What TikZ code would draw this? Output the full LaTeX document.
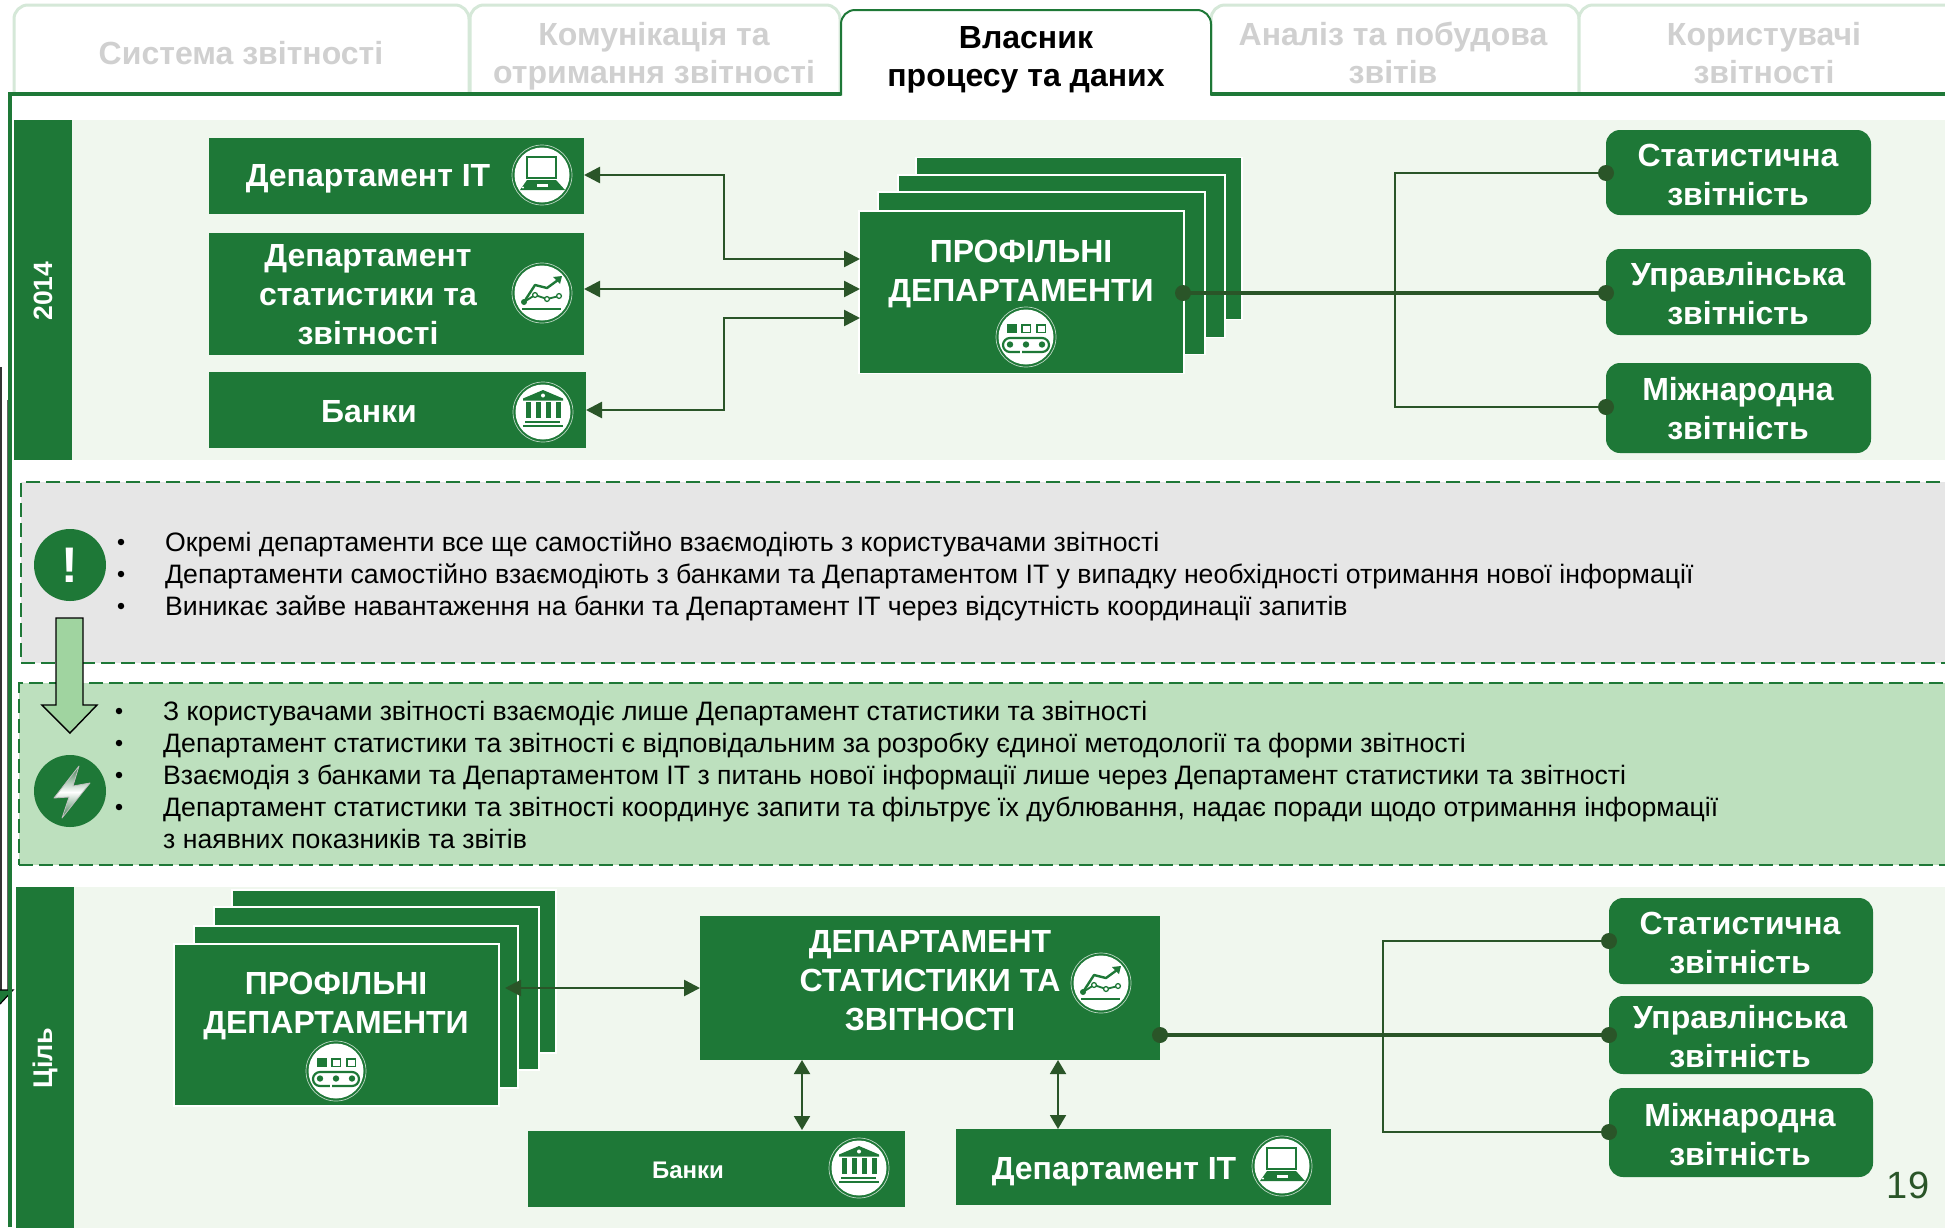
\documentclass[tikz,border=0pt]{standalone}
\usepackage{fontspec}
\setmainfont{Liberation Sans}
\usetikzlibrary{arrows.meta,calc}
\definecolor{gr}{HTML}{1E7837}
\definecolor{dk}{HTML}{2A5528}
\definecolor{pale}{HTML}{F0F7EE}
\definecolor{tabl}{HTML}{D5E8D8}
\definecolor{tabt}{HTML}{D0D0D0}
\definecolor{grayp}{HTML}{E6E6E6}
\definecolor{greenp}{HTML}{BDE0BE}
\definecolor{arrf}{HTML}{A0D4A0}
\newcommand{\rbox}[6]{%
  \pgfmathsetmacro\cxx{(#2+#4)/2}\pgfmathsetmacro\cyy{(#3+#5)/2}%
  \pgfmathsetmacro\ww{#4-#2}\pgfmathsetmacro\hh{#5-#3}%
  \node[#6,minimum width=\ww pt,minimum height=\hh pt] (#1) at (\cxx,\cyy) {};}
\newcommand{\disc}[3]{%
  \node[circle,fill=white,inner sep=0pt,minimum size=55pt] (#1) at (#2,#3) {};
  \draw[white!70!gr,line width=.7pt] (#2,#3) circle (30);}
\newcommand{\iconlaptop}[3]{\disc{#1}{#2}{#3}
  \begin{scope}[shift={(#2,#3)}]
  \draw[gr,line width=2pt,fill=white] (-15,-18) rectangle (14,3);
  \fill[gr] (-15,5) -- (14,5) -- (23,15) -- (-22,15) -- cycle;
  \fill[white] (-5,9) rectangle (6,12);
  \fill[white] (-19,12.5) circle (1.1);
  \end{scope}}
\newcommand{\iconchart}[3]{\disc{#1}{#2}{#3}
  \begin{scope}[shift={(#2,#3)}]
  \fill[gr] (-20,15) rectangle (19,17);
  \draw[gr,line width=2.4,line join=round] (-18,9) -- (-7,-8) -- (5,-5) -- (16,-13);
  \fill[gr] (20,-17) -- (11,-16) -- (18,-9) -- cycle;
  \draw[gr,line width=1.8] (-18,9) -- (-7,2) -- (5,6) -- (17,3);
  \fill[gr] (-18,9) circle (3);
  \foreach \p in {(-7,2),(5,6),(17,3)} \fill[white,draw=gr,line width=1.3] \p circle (2.4);
  \end{scope}}
\newcommand{\iconbank}[3]{\disc{#1}{#2}{#3}
  \begin{scope}[shift={(#2,#3)}]
  \fill[gr] (0,-22) -- (20,-13.5) -- (20,-11.5) -- (-20,-11.5) -- (-20,-13.5) -- cycle;
  \fill[white] (0,-16.5) circle (2);
  \foreach \x in {-17,-7,3,13} \fill[gr] (\x,-10) rectangle ++(4.6,16);
  \fill[gr] (-18,9) rectangle (17,11);
  \fill[gr] (-20,13) rectangle (20,15);
  \end{scope}}
\newcommand{\iconbelt}[3]{\disc{#1}{#2}{#3}
  \begin{scope}[shift={(#2,#3)}]
  \fill[gr] (-19,-13) rectangle (-9,-4);
  \draw[gr,line width=1.8] (-4,-12) rectangle (4.5,-4.5);
  \draw[gr,line width=1.8] (11,-12) rectangle (19.5,-4.5);
  \draw[gr,line width=2.2,rounded corners=7] (-23,1) rectangle (23,15);
  \foreach \x in {-16,0,16} \fill[gr] (\x,7.5) circle (3.2);
  \fill[white] (-6.5,13) rectangle (-4.5,17);
  \end{scope}}
\tikzset{
  solid box/.style={rectangle,fill=gr,inner sep=0pt,outer sep=0pt},
  stack box/.style={solid box,draw=white,line width=1.2pt},
  round box/.style={solid box,rounded corners=14pt},
  band/.style={rectangle,fill=pale,inner sep=0pt,outer sep=0pt},
  dash panel/.style={rectangle,draw=gr,line width=1.8pt,dash pattern=on 14pt off 6pt,inner sep=0pt,outer sep=0pt},
  whitetxt/.style={text=white,align=center,font=\fontsize{32}{39}\selectfont\bfseries,inner sep=0pt},
  tabtxt/.style={text=tabt,align=center,font=\fontsize{32}{38.5}\selectfont\bfseries,inner sep=0pt},
  bodytxt/.style={anchor=base west,text=black,font=\fontsize{26.65}{32}\selectfont,inner sep=0pt},
  bullet/.style={circle,fill=black,inner sep=0pt,minimum size=6.5pt},
  conn/.style={dk,line width=2.6pt},
  biarrow/.style={conn,{Triangle[length=16pt,width=16pt]}-{Triangle[length=16pt,width=16pt]}},
  bluearrow/.style={dk,line width=2pt,{Triangle[length=14pt,width=16pt]}-{Triangle[length=14pt,width=16pt]}},
  pin/.style={circle,fill=dk,inner sep=0pt,minimum size=16pt},
}
\begin{document}
\begin{tikzpicture}[x=1pt,y=-1pt]
\path[use as bounding box] (0,0) rectangle (1945,1227);
\clip (0,0) rectangle (1945,1227);
\fill[white] (0,0) rectangle (1945,1227);
% cropped outline at far left
\draw[black!80,line width=1.6pt] (0.7,367) -- (0.7,990);
\draw[black!60,line width=.8pt] (7,400) -- (7,990);
\fill[gr] (0,990) -- (13,990) -- (0,1004) -- cycle;
\draw[black,line width=1.2pt] (0,990) -- (13,990) -- (0,1004);
% tabs
\draw[tabl,line width=3pt,fill=white,rounded corners=14pt] (14,95) -- (14,5) -- (469,5) -- (469,95);
\draw[tabl,line width=3pt,fill=white,rounded corners=14pt] (470,95) -- (470,5) -- (840,5) -- (840,95);
\draw[tabl,line width=3pt,fill=white,rounded corners=14pt] (1211,95) -- (1211,5) -- (1579,5) -- (1579,95);
\draw[tabl,line width=3pt,fill=white,rounded corners=14pt] (1579,95) -- (1579,5) -- (1960,5) -- (1960,95);
\draw[gr,line width=4pt] (9.5,1227) -- (9.5,93.5) -- (841,93.5);
\draw[gr,line width=4pt] (1211,93.5) -- (1945,93.5);
\draw[gr,line width=2pt,fill=white,rounded corners=14pt] (841,95.5) -- (841,10) -- (1211,10) -- (1211,95.5);
\node[tabtxt] (t1) at (241,53) {Система звітності};
\node[tabtxt] (t2) at (654,56) {Комунікація та\\отримання звітності};
\node[tabtxt,text=black] (t3) at (1026,60) {Власник\\процесу та даних};
\node[tabtxt] (t4) at (1393,53) {Аналіз та побудова\\звітів};
\node[tabtxt] (t5) at (1764,53) {Користувачі\\звітності};
% 2014 band
\rbox{band1}{72}{120}{1945}{460}{band}
\rbox{bar1}{14}{120}{72}{460}{solid box}
\node[text=white,font=\fontsize{26.5}{30}\selectfont\bfseries,rotate=90,inner sep=0pt] (y2014) at (43,291) {2014};
% left boxes
\rbox{it1}{209}{138}{584}{214}{solid box}
\rbox{st1}{209}{233}{584}{355}{solid box}
\rbox{bk1}{209}{372}{586}{448}{solid box}
\node[whitetxt] (it1t) at (368,179) {Департамент IT};
\node[whitetxt] (st1t) at (368,295) {Департамент\\статистики та\\звітності};
\node[whitetxt] (bk1t) at (369,412) {Банки};
\iconlaptop{ic1}{542}{175}
\iconchart{ic2}{542}{293}
\iconbank{ic3}{543}{412}
% stack
\rbox{s3}{916}{157.5}{1242}{319.5}{stack box}
\rbox{s2}{898}{175}{1225}{337.5}{stack box}
\rbox{s1}{878}{192}{1205}{354.5}{stack box}
\rbox{pd}{859}{211}{1184}{373.5}{stack box}
\node[whitetxt] (pdt) at (1021,274) {ПРОФІЛЬНІ\\ДЕПАРТАМЕНТИ};
\iconbelt{ic4}{1026}{337}
% outcomes
\rbox{o1}{1606}{130}{1871}{215}{round box}
\rbox{o2}{1606}{249}{1871}{335}{round box}
\rbox{o3}{1606}{363}{1871}{453}{round box}
\node[whitetxt] (o1t) at (1738,174.5) {Статистична\\звітність};
\node[whitetxt] (o2t) at (1738,294) {Управлінська\\звітність};
\node[whitetxt] (o3t) at (1738,408.5) {Міжнародна\\звітність};
% connectors 2014
\coordinate (pa) at (860,259);
\coordinate (pb) at (860,289);
\coordinate (pc) at (860,318);
\coordinate (ja) at (724,175);
\coordinate (jc) at (724,410);
\coordinate (ita) at (584,175);
\coordinate (stb) at (584,289);
\coordinate (bkc) at (586,410);
\draw[biarrow] (ita) -- (ja) -- (ja |- pa) -- (pa);
\draw[biarrow] (stb) -- (pb);
\draw[biarrow] (bkc) -- (jc) -- (jc |- pc) -- (pc);
\coordinate (d0) at (1183,293);
\coordinate (d1) at (1606,173);
\coordinate (d2) at (1606,293);
\coordinate (d3) at (1606,407);
\coordinate (jd) at (1395,293);
\draw[conn,line width=3.5pt] (d0) -- (d2);
\draw[conn] (d1) -- (jd |- d1) -- (jd |- d3) -- (d3);
\node[pin] (pd0) at (d0) {};
\node[pin] (pd1) at (d1) {};
\node[pin] (pd2) at (d2) {};
\node[pin] (pd3) at (d3) {};
% panels
\rbox{gp}{21}{482}{2000}{663}{dash panel,fill=grayp}
\rbox{lp}{19}{683}{2000}{865}{dash panel,fill=greenp}
\node[circle,fill=gr,minimum size=72pt,inner sep=0pt,text=white,font=\fontsize{50}{50}\selectfont\bfseries] (warn) at (70,565) {!};
\node[circle,fill=gr,minimum size=72pt,inner sep=0pt] (bolt) at (70,791) {};
\draw[top color=gr!70!gray,bottom color=gr!70!gray,middle color=white,draw=gray!50!white,line width=.8pt,line join=round] ($(bolt)+(9,-25)$) -- ($(bolt)+(-16,7)$) -- ($(bolt)+(-1,6)$) -- ($(bolt)+(-8,27)$) -- ($(bolt)+(20,-8)$) -- ($(bolt)+(3,-5)$) -- cycle;
\draw[black,line width=1.4pt,fill=arrf,line join=miter] (56,618) -- (83,618) -- (83,705) -- (97,705) -- (70,733) -- (42,705) -- (56,705) -- cycle;
% text
\foreach \y in {542,574,606} \node[bullet] at (121,\y) {};
\node[bodytxt] (a1) at (165,551) {Окремі департаменти все ще самостійно взаємодіють з користувачами звітності};
\node[bodytxt] (a2) at (165,583) {Департаменти самостійно взаємодіють з банками та Департаментом IT у випадку необхідності отримання нової інформації};
\node[bodytxt] (a3) at (165,615) {Виникає зайве навантаження на банки та Департамент IT через відсутність координації запитів};
\foreach \y in {711,743,775,807} \node[bullet] at (119,\y) {};
\node[bodytxt] (b1) at (163,720) {З користувачами звітності взаємодіє лише Департамент статистики та звітності};
\node[bodytxt] (b2) at (163,752) {Департамент статистики та звітності є відповідальним за розробку єдиної методології та форми звітності};
\node[bodytxt] (b3) at (163,784) {Взаємодія з банками та Департаментом IT з питань нової інформації лише через Департамент статистики та звітності};
\node[bodytxt] (b4) at (163,816) {Департамент статистики та звітності координує запити та фільтрує їх дублювання, надає поради щодо отримання інформації};
\node[bodytxt] (b5) at (163,848) {з наявних показників та звітів};
% goal band
\rbox{band2}{74}{887}{1945}{1240}{band}
\rbox{bar2}{16}{887}{74}{1240}{solid box}
\node[text=white,font=\fontsize{27}{30}\selectfont\bfseries,rotate=90,inner sep=0pt] (goal) at (45,1058) {Ціль};
% goal stack
\rbox{g3}{232}{890}{556}{1053}{stack box}
\rbox{g2}{214}{907}{539}{1070}{stack box}
\rbox{g1}{194}{926}{518}{1088}{stack box}
\rbox{gd}{174}{944}{499}{1106}{stack box}
\node[whitetxt] (gdt) at (336,1006) {ПРОФІЛЬНІ\\ДЕПАРТАМЕНТИ};
\iconbelt{ic5}{336}{1071}
\rbox{ds}{700}{916}{1160}{1060}{solid box}
\node[whitetxt] (dst) at (930,981) {ДЕПАРТАМЕНТ\\СТАТИСТИКИ ТА\\ЗВІТНОСТІ};
\iconchart{ic6}{1101}{983}
\rbox{bk2}{528}{1131}{905}{1207}{solid box}
\node[whitetxt,font=\fontsize{24}{28}\selectfont\bfseries] (bk2t) at (688,1170) {Банки};
\iconbank{ic7}{859}{1168}
\rbox{it2}{956}{1129}{1331}{1205}{solid box}
\node[whitetxt] (it2t) at (1114,1172) {Департамент IT};
\iconlaptop{ic8}{1282}{1166}
\rbox{q1}{1609}{898}{1873}{984}{round box}
\rbox{q2}{1609}{996}{1873}{1074}{round box}
\rbox{q3}{1609}{1088}{1873}{1177}{round box}
\node[whitetxt] (q1t) at (1740,943) {Статистична\\звітність};
\node[whitetxt] (q2t) at (1740,1037) {Управлінська\\звітність};
\node[whitetxt] (q3t) at (1740,1135) {Міжнародна\\звітність};
\coordinate (ga) at (505,988);
\coordinate (gb) at (700,988);
\draw[biarrow] (ga) -- (gb);
\coordinate (ba) at (802,1060);
\coordinate (bb) at (802,1130);
\coordinate (ca) at (1058,1060);
\coordinate (cb) at (1058,1129);
\draw[bluearrow] (ba) -- (bb);
\draw[bluearrow] (ca) -- (cb);
\coordinate (e0) at (1160,1035);
\coordinate (e1) at (1609,941);
\coordinate (e2) at (1609,1035);
\coordinate (e3) at (1609,1132);
\coordinate (je) at (1383,1035);
\draw[conn,line width=3.5pt] (e0) -- (e2);
\draw[conn] (e1) -- (je |- e1) -- (je |- e3) -- (e3);
\node[pin] (pe0) at (e0) {};
\node[pin] (pe1) at (e1) {};
\node[pin] (pe2) at (e2) {};
\node[pin] (pe3) at (e3) {};
\node[text=dk,font=\fontsize{38}{38}\selectfont,inner sep=0pt] (pg) at (1908,1185) {19};
\end{tikzpicture}
\end{document}
